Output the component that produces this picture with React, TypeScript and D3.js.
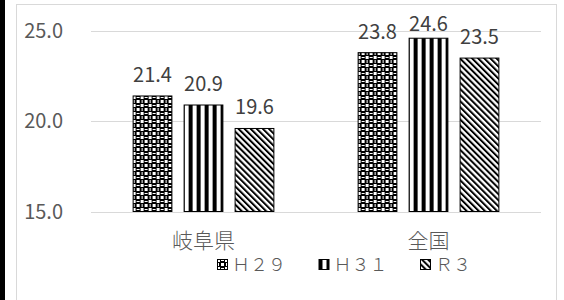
import React from "react";
import * as d3 from "d3";

// chart values
const categories = ["岐阜県", "全国"];
const seriesNames = ["Ｈ２９", "Ｈ３１", "Ｒ３"];
const valuesH29 = [21.4, 23.8];
const valuesH31 = [20.9, 24.6];
const valuesR3 = [19.6, 23.5];
const yTicks = [15, 20, 25];

const W = 564;
const H = 300;
const margin = { top: 31, right: 23, bottom: 89, left: 91 };
const font = "'Noto Sans CJK JP', 'Noto Sans', sans-serif";

const patternIds = ["pat-h29", "pat-h31", "pat-r3"];

export default function App() {
  const series = [valuesH29, valuesH31, valuesR3];

  const x0 = d3
    .scaleBand()
    .domain(categories)
    .range([margin.left, W - margin.right])
    .paddingInner(0.37)
    .paddingOuter(0.185);
  const x1 = d3
    .scaleBand()
    .domain(seriesNames)
    .range([0, x0.bandwidth()])
    .paddingInner(0.22);
  const y = d3
    .scaleLinear()
    .domain([15, 25])
    .range([H - margin.bottom + 0.5, margin.top]);

  // legend layout
  const legendX = d3
    .scalePoint()
    .domain(seriesNames)
    .range([217, 420]);

  return (
    <svg
      width={W}
      height={H}
      style={{ position: "fixed", left: 0, top: 0, background: "#fff" }}
      fontFamily={font}
    >
      <defs>
        {/* grid-like checker */}
        <pattern id={patternIds[0]} width={8} height={8} patternUnits="userSpaceOnUse">
          <rect width={8} height={8} fill="#000" />
          <rect x={0} y={0} width={3} height={3} fill="#fff" />
          <rect x={4} y={4} width={3} height={3} fill="#fff" />
          <rect x={4} y={1} width={3} height={1} fill="#fff" />
          <rect x={1} y={4} width={1} height={3} fill="#fff" />
        </pattern>
        {/* wide vertical */}
        <pattern id={patternIds[1]} width={8} height={8} patternUnits="userSpaceOnUse">
          <rect width={8} height={8} fill="#fff" />
          <rect x={0} y={0} width={4} height={8} fill="#000" />
        </pattern>
        {/* wide downward diagonal */}
        <pattern
          id={patternIds[2]}
          width={4.3}
          height={8}
          patternUnits="userSpaceOnUse"
          patternTransform="rotate(-45)"
        >
          <rect width={4.3} height={8} fill="#fff" />
          <rect x={0} y={0} width={2} height={8} fill="#000" />
        </pattern>
      </defs>

      <rect x={0} y={0} width={5} height={H} fill="#000" />
      <rect x={16.5} y={4.5} width={540} height={H + 10} fill="none" stroke="#d9d9d9" />

      {/* grid + y labels */}
      {yTicks.map((t) => (
        <g key={t}>
          <line
            x1={margin.left}
            x2={W - margin.right}
            y1={Math.round(y(t)) + 0.5}
            y2={Math.round(y(t)) + 0.5}
            stroke="#d9d9d9"
            strokeWidth={1}
          />
          <text
            x={63}
            y={y(t) + 7}
            textAnchor="end"
            fontSize={20}
            fill="#595959"
          >
            {t.toFixed(1)}
          </text>
        </g>
      ))}

      {/* bars */}
      {categories.map((c, ci) => (
        <g key={c} transform={`translate(${x0(c)},0)`}>
          {seriesNames.map((s, si) => {
            const v = series[si][ci];
            const top = y(v);
            const labelY = Math.max(top - 14, 31);
            return (
              <g key={s}>
                <rect
                  x={x1(s)! + 0.5}
                  y={top}
                  width={x1.bandwidth() - 1}
                  height={y(15) - top}
                  fill={`url(#${patternIds[si]})`}
                  stroke="#000"
                  strokeWidth={1}
                />
                <text
                  x={x1(s)! + x1.bandwidth() / 2}
                  y={labelY}
                  textAnchor="middle"
                  fontSize={20}
                  fill="#404040"
                >
                  {v.toFixed(1)}
                </text>
              </g>
            );
          })}
          <text
            x={x0.bandwidth() / 2}
            y={248}
            textAnchor="middle"
            fontSize={21}
            fontWeight={300}
            fill="#595959"
          >
            {c}
          </text>
        </g>
      ))}

      {/* legend */}
      {seriesNames.map((s, si) => (
        <g key={s} transform={`translate(${legendX(s)},259)`}>
          <rect
            x={0.5}
            y={0.5}
            width={10}
            height={10}
            fill={`url(#${patternIds[si]})`}
            stroke="#000"
          />
          <text x={15} y={12} fontSize={18} fontWeight={300} fill="#595959">
            {s}
          </text>
        </g>
      ))}
    </svg>
  );
}
